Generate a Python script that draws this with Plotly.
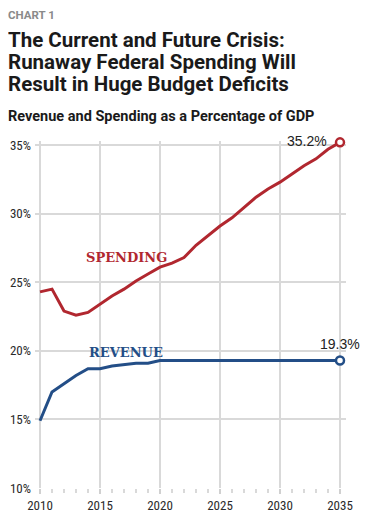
import plotly.graph_objects as go

years = list(range(2010, 2036))
spending = [24.3, 24.5, 22.9, 22.6, 22.8, 23.4, 24.0, 24.5, 25.1, 25.6, 26.1, 26.4, 26.8,
            27.7, 28.4, 29.1, 29.7, 30.45, 31.2, 31.8, 32.3, 32.9, 33.5, 34.0, 34.7, 35.2]
revenue = [14.9, 17.0, 17.6, 18.2, 18.7, 18.7, 18.9, 19.0, 19.1, 19.1, 19.3, 19.3, 19.3,
           19.3, 19.3, 19.3, 19.3, 19.3, 19.3, 19.3, 19.3, 19.3, 19.3, 19.3, 19.3, 19.3]
x_ticks = [2010, 2015, 2020, 2025, 2030, 2035]
y_ticks = [10, 15, 20, 25, 30, 35]
y_tick_labels = ["10%", "15%", "20%", "25%", "30%", "35%"]

RED = "#b1272f"
BLUE = "#234e87"
TF = "Liberation Sans Narrow, Arial Narrow, Roboto Condensed, Liberation Sans"

fig = go.Figure()
for vals, col in [(spending, RED), (revenue, BLUE)]:
    fig.add_trace(go.Scatter(x=years, y=vals, mode="lines", line=dict(color=col, width=3),
                             hoverinfo="skip", showlegend=False, cliponaxis=False))
    fig.add_trace(go.Scatter(x=[years[-1]], y=[vals[-1]], mode="markers", cliponaxis=False,
                             marker=dict(color="white", size=8, line=dict(color=col, width=2.5)),
                             hoverinfo="skip", showlegend=False))

fig.add_annotation(x=years[-1], y=spending[-1], text=f"{spending[-1]:.1f}%", showarrow=False,
                   xanchor="right", yanchor="middle", xshift=-11, yshift=1,
                   font=dict(family="Liberation Sans, Arial", size=14, color="#222"))
fig.add_annotation(x=years[-1], y=revenue[-1], text=f"{revenue[-1]:.1f}%", showarrow=False,
                   xanchor="center", yanchor="bottom", yshift=6,
                   font=dict(family="Liberation Sans, Arial", size=14, color="#222"))
fig.add_annotation(x=2017.2, y=26.8, text="<b>SPENDING</b>", showarrow=False,
                   font=dict(family="DejaVu Serif", size=13, color=RED))
fig.add_annotation(x=2017.2, y=19.9, text="<b>REVENUE</b>", showarrow=False,
                   font=dict(family="DejaVu Serif", size=13, color=BLUE))

# The page body has an 8px margin; positions below are compensated for it.
OFF = 8
hf = "Roboto, Liberation Sans, Arial"
W, H = 375 - OFF, 524 - OFF
ml, mr, mt, mb = 35 - OFF, 29, 141 - OFF, 36
ph = H - mt - mb
pw = W - ml - mr
def py(ypix):
    return (H - mb - (ypix - OFF)) / ph
def px(xpix):
    return (max(xpix - OFF, 0) - ml) / pw

headers = [("<b>CHART 1</b>", 11.5, "#8a8a8a", 15),
           ("<b>The Current and Future Crisis:</b>", 20.5, "#1a1a1a", 40),
           ("<b>Runaway Federal Spending Will</b>", 20.5, "#1a1a1a", 62),
           ("<b>Result in Huge Budget Deficits</b>", 20.5, "#1a1a1a", 84),
           ("<b>Revenue and Spending as a Percentage of GDP</b>", 14.5, "#1a1a1a", 116)]
for text, size, col, yy in headers:
    fig.add_annotation(xref="paper", yref="paper", x=px(5), y=py(yy), text=text, showarrow=False,
                       xanchor="left", yanchor="middle", xshift=-2,
                       font=dict(family=hf, size=size, color=col))

fig.update_layout(
    width=W, height=H, margin=dict(l=ml, r=mr, t=mt, b=mb, autoexpand=False),
    plot_bgcolor="white", paper_bgcolor="white",
    xaxis=dict(range=[2009.583, 2035.5], tickvals=x_ticks, showgrid=True, automargin=False,
               gridcolor="#d9d9d9", gridwidth=1.5, zeroline=False, showline=False,
               ticks="outside", ticklen=5, tickcolor="#d0d0d0", tickwidth=1.5,
               minor=dict(dtick=1, ticks="outside", ticklen=4, tickcolor="#d9d9d9", showgrid=False),
               tickfont=dict(family=TF, size=13, color="#2a2a2a")),
    yaxis=dict(range=[10, 35.3], tickvals=y_ticks, ticktext=y_tick_labels, showgrid=True,
               automargin=False,
               gridcolor="#d9d9d9", gridwidth=1.5, zeroline=False, showline=False,
               ticks="", ticklabelstandoff=3,
               tickfont=dict(family=TF, size=13, color="#2a2a2a")),
)
fig.write_html("out.html")
